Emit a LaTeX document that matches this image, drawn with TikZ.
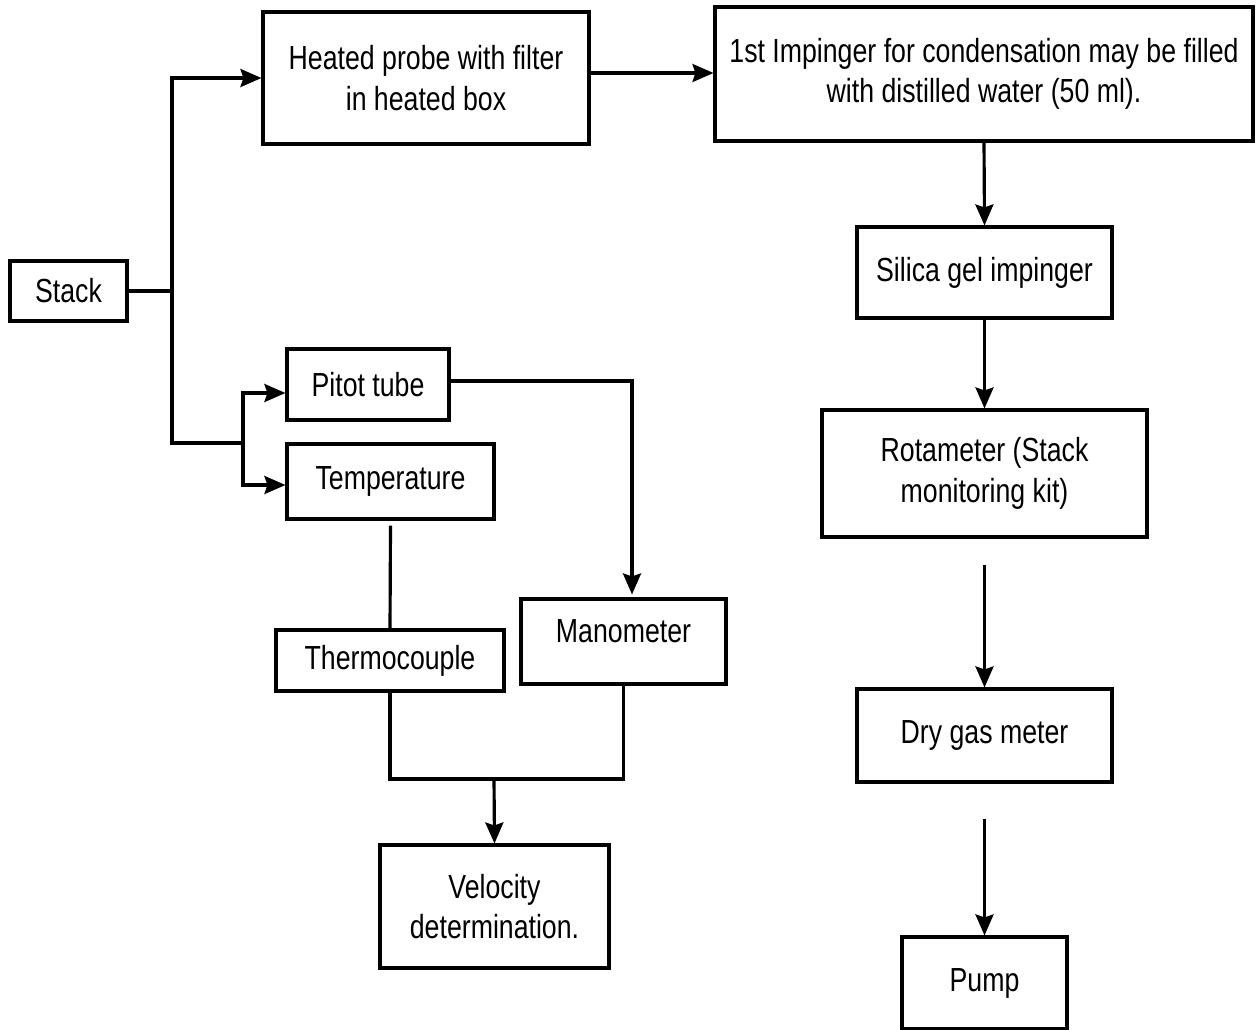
\documentclass[tikz,border=0pt]{standalone}
\usepackage{fontspec}
\setmainfont{Liberation Sans}[FakeStretch=0.8]
\usetikzlibrary{arrows.meta,calc}
\tikzset{
    boite/.style={draw,line width=1.8pt,align=center,inner sep=0pt,
      font=\fontsize{19}{23}\selectfont},
    fleche/.style={line width=1.8pt,-{Stealth[length=0.42cm,width=0.36cm,inset=0.06cm]}},
    trait/.style={line width=1.8pt},
  }
\begin{document}
\begin{tikzpicture}[x=0.02cm,y=-0.02cm]
				  \useasboundingbox (0,0) rectangle (1256,1029);
				  %BOITES
				  \node[boite,minimum width=2.34cm,minimum height=1.2cm] (stack) at (68.5,291) {Stack};
				  \node[boite,minimum width=6.52cm,minimum height=2.64cm] (probe) at (426,78) {Heated probe with filter\\in heated box};
				  \node[boite,minimum width=10.76cm,minimum height=2.68cm] (imp) at (984,74) {1st Impinger for condensation may be filled\\with distilled water (50 ml).};
				  \node[boite,minimum width=5.1cm,minimum height=1.82cm] (silica) at (984.5,272.5) {Silica gel impinger};
				  \node[boite,minimum width=6.5cm,minimum height=2.54cm] (rota) at (984.5,473.5) {Rotameter (Stack\\monitoring kit)};
				  \node[boite,minimum width=5.1cm,minimum height=1.86cm] (dry) at (984.5,735.5) {Dry gas meter};
				  \node[boite,minimum width=3.3cm,minimum height=1.84cm] (pump) at (984.5,983) {Pump};
				  \node[boite,minimum width=3.24cm,minimum height=1.42cm] (pitot) at (368,384.5) {Pitot tube};
				  \node[boite,minimum width=4.14cm,minimum height=1.5cm] (temp) at (390.5,481.5) {Temperature};
				  \node[boite,minimum width=4.56cm,minimum height=1.22cm] (thermo) at (390,660.5) {Thermocouple};
				  \node[boite,minimum width=4.1cm,minimum height=1.7cm,text depth=0.42cm] (mano) at (623.5,641.5) {Manometer};
				  \node[boite,minimum width=4.58cm,minimum height=2.46cm] (velo) at (494.5,906.5) {Velocity\\determination.};
				  %NOEUDS
				  \coordinate (jA) at (172,291);
				  \coordinate (jB) at (243,443);
				  \coordinate (jC) at (494,779);
				  %STACK
				  \draw[trait] (stack.east) -- (jA);
				  \draw[fleche] (jA) |- (probe.west);
				  \draw[trait] (jA) |- (jB);
				  \draw[fleche] (jB) |- ([yshift=-0.17cm]pitot.west);
				  \draw[fleche] (jB) |- ([yshift=-0.07cm]temp.west);
				  %LIGNE DE PRELEVEMENT
				  \draw[fleche] ([yshift=0.1cm]probe.east) -- ([yshift=0.1cm]probe.east -| imp.west);
				  \draw[fleche] (imp.south) -- (silica.north);
				  \draw[fleche] (silica.south) -- (rota.north);
				  \draw[fleche] ([yshift=-0.52cm]rota.south) -- (dry.north);
				  \draw[fleche] ([yshift=-0.7cm]dry.south) -- (pump.north);
				  %VITESSE
				  \draw[fleche] ([yshift=0.07cm]pitot.east) -| ([xshift=0.17cm,yshift=0.06cm]mano.north);
				  \draw[trait] ([yshift=-0.1cm]temp.south) -- (thermo.north);
				  \draw[trait] (thermo.south) |- (jC) -| (mano.south);
				  \draw[fleche] (jC) -- (velo.north);
				  \end{tikzpicture}
\end{document}
